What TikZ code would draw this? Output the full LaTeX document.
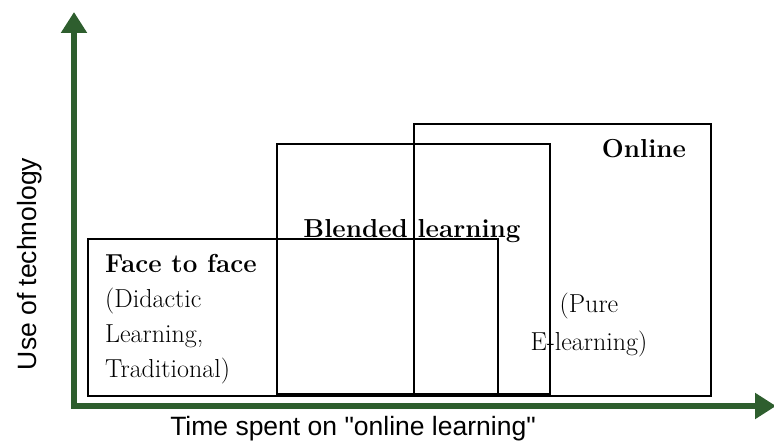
\documentclass[tikz,border=0pt]{standalone}
\usepackage{fontspec}
\usepackage{tikz}
\usetikzlibrary{arrows.meta,positioning}
\newfontfamily\axisfont{Liberation Sans}
\definecolor{axisgreen}{HTML}{2E5E2E}

\begin{document}
\begin{tikzpicture}[x=1pt,y=-1pt,
  zone/.style={draw=black,line width=1.6pt,inner sep=0pt,anchor=north west},
  axis/.style={{Triangle[length=21pt,width=25pt]}-{Triangle[length=21pt,width=25pt]},
               line width=6pt,axisgreen},
  axlabel/.style={font=\axisfont\fontsize{26.5}{30}\selectfont,text=black,inner sep=0pt},
  head/.style={font=\fontsize{26}{35}\selectfont\bfseries,inner sep=0pt},
  body/.style={font=\fontsize{26}{35}\selectfont,inner sep=0pt}]
  \useasboundingbox (0,0) rectangle (774,441);
  % the three overlapping zones -- face to face, blended, online
  \foreach \name/\x/\y/\w/\h in {face/87/238/410/157, blend/276/143/273/250,
                                 online/413/123/297/272}{
    \node[zone,minimum width=\w pt,minimum height=\h pt] (\name) at (\x,\y) {};}
  % axes
  \coordinate (orig) at (74,406);
  \coordinate (ytip) at (74,12);
  \coordinate (xtip) at (776,406);
  \draw[axis] (ytip) -- (orig) -- (xtip);
  \node[axlabel,rotate=90,anchor=base] (ylab) at (36,264) {Use of technology};
  \node[axlabel,anchor=base] (xlab) at (353,435) {Time spent on "online learning"};
  % zone labels (multi-line nodes sit on their last baseline)
  \node[body,align=left,anchor=base west] (facetxt) at (105,377)
       {\textbf{Face to face}\\(Didactic\\Learning,\\Traditional)};
  \node[head,anchor=base] (blendtxt) at (412,237) {Blended learning};
  \node[head,anchor=base] (onlinetxt) at (644,158) {Online};
  \node[body,align=center,anchor=base,font=\fontsize{26}{38}\selectfont]
       (puretxt) at (589,350) {(Pure\\E-learning)};
\end{tikzpicture}
\end{document}
